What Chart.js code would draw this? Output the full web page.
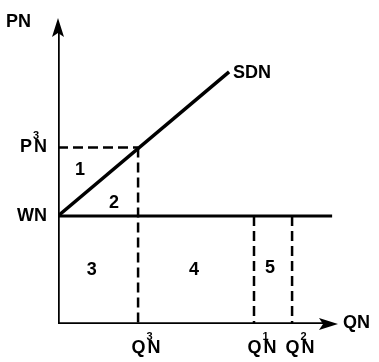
<!DOCTYPE html>
<html><head><meta charset="utf-8">
<script src="https://cdn.jsdelivr.net/npm/chart.js@4"></script>
<style>html,body{margin:0;padding:0;background:#fff}#wrap{width:379px;height:362px}</style>
</head><body><div id="wrap"><canvas id="c" width="379" height="362"></canvas></div>
<script>
// Quantity positions on QN axis (0-100 scale) and their labels
const qLabels = ["Q³N", "Q¹N", "Q²N"];
const qValues = [28.6, 70.0, 83.6];
// Price levels on PN axis and their labels
const pLabels = ["WN", "P³N"];
const pValues = [35.3, 57.7];
// Supply curve SDN
const sdnX = [0, 61.1];
const sdnY = [35.3, 82.4];
const wnEndX = 97.9;
// Axis titles
const axisTitles = ["PN", "QN"];
// Area number labels
const areaLabels = ["1", "2", "3", "4", "5"];
const areaX = [7.9, 20.0, 12.1, 48.6, 75.7];
const areaY = [50.3, 39.5, 17.6, 17.6, 18.3];

const WN = pValues[0], P3 = pValues[1];
const Q3 = qValues[0], Q1 = qValues[1], Q2 = qValues[2];

function seg(pts, dashed, width) {
  return {
    data: pts.map(p => ({x: p[0], y: p[1]})),
    showLine: true, borderColor: '#000', borderWidth: width,
    borderDash: dashed ? [10, 5] : [], pointRadius: 0, fill: false, tension: 0,
    borderCapStyle: 'butt'
  };
}

const sup = {"¹": "1", "²": "2", "³": "3"};
const FONT = '"Liberation Sans", Arial, sans-serif';
function drawRich(ctx, text, x, y, size, align) {
  const main = text.replace(/[¹²³]/g, '');
  ctx.font = `bold ${size}px ${FONT}`;
  const w = ctx.measureText(main).width + (main.length !== text.length ? 2 : 0);
  let cx = align === 'center' ? x - w / 2 : (align === 'right' ? x - w : x);
  ctx.textAlign = 'left';
  ctx.textBaseline = 'middle';
  for (const ch of text) {
    if (sup[ch]) {
      ctx.font = `bold ${Math.round(size * 0.6)}px ${FONT}`;
      ctx.fillText(sup[ch], cx + 1, y - size * 0.62);
      ctx.font = `bold ${size}px ${FONT}`;
      cx += 2;
    } else {
      ctx.fillText(ch, cx, y);
      cx += ctx.measureText(ch).width;
    }
  }
}

const decor = {
  id: 'decor',
  beforeDraw(chart) {
    const ctx = chart.ctx;
    ctx.save(); ctx.fillStyle = '#fff'; ctx.fillRect(0, 0, chart.width, chart.height); ctx.restore();
  },
  afterDatasetsDraw(chart) {
    const ctx = chart.ctx, xs = chart.scales.x, ys = chart.scales.y;
    const X = v => xs.getPixelForValue(v), Y = v => ys.getPixelForValue(v);
    ctx.save();
    ctx.fillStyle = '#000';
    // arrowheads
    let tx = X(0), ty = Y(100);
    ctx.beginPath(); ctx.moveTo(tx, ty); ctx.lineTo(tx - 6, ty + 19); ctx.lineTo(tx, ty + 15); ctx.lineTo(tx + 6, ty + 19); ctx.closePath(); ctx.fill();
    tx = X(100); ty = Y(0);
    ctx.beginPath(); ctx.moveTo(tx, ty); ctx.lineTo(tx - 19, ty - 6); ctx.lineTo(tx - 15, ty); ctx.lineTo(tx - 19, ty + 6); ctx.closePath(); ctx.fill();
    // axis titles
    drawRich(ctx, axisTitles[0], 6, 22, 18, 'left');
    drawRich(ctx, axisTitles[1], X(100) + 5, Y(0) - 1, 18, 'left');
    // price labels
    pLabels.forEach((t, i) => drawRich(ctx, t, X(0) - 11, Y(pValues[i]), 18, 'right'));
    // quantity labels
    qLabels.forEach((t, i) => drawRich(ctx, t, X(qValues[i]) + 8, Y(0) + 24, 18, 'center'));
    // curve label
    drawRich(ctx, 'SDN', X(sdnX[1]) + 4, Y(sdnY[1]) + 1, 18, 'left');
    // area numbers
    areaLabels.forEach((t, i) => drawRich(ctx, t, X(areaX[i]), Y(areaY[i]), 18, 'center'));
    ctx.restore();
  }
};

new Chart(document.getElementById('c'), {
  type: 'scatter',
  data: {
    datasets: [
      seg([[0, 0], [0, 96]], false, 3.5),
      seg([[0, 0], [96, 0]], false, 3.5),
      seg([[0, WN], [wnEndX, WN]], false, 3),
      seg([[sdnX[0], sdnY[0]], [sdnX[1], sdnY[1]]], false, 3.5),
      seg([[0, P3], [Q3, P3]], true, 2.5),
      seg([[Q3, P3], [Q3, 0]], true, 2.5),
      seg([[Q1, WN], [Q1, 0]], true, 2.5),
      seg([[Q2, WN], [Q2, 0]], true, 2.5)
    ]
  },
  options: {
    responsive: false, animation: false,
    layout: {padding: {left: 58, right: 41, top: 18, bottom: 38}},
    plugins: {legend: {display: false}, tooltip: {enabled: false}},
    scales: {
      x: {type: 'linear', min: 0, max: 100, display: false},
      y: {type: 'linear', min: 0, max: 100, display: false}
    }
  },
  plugins: [decor]
});
</script>
</body></html>
